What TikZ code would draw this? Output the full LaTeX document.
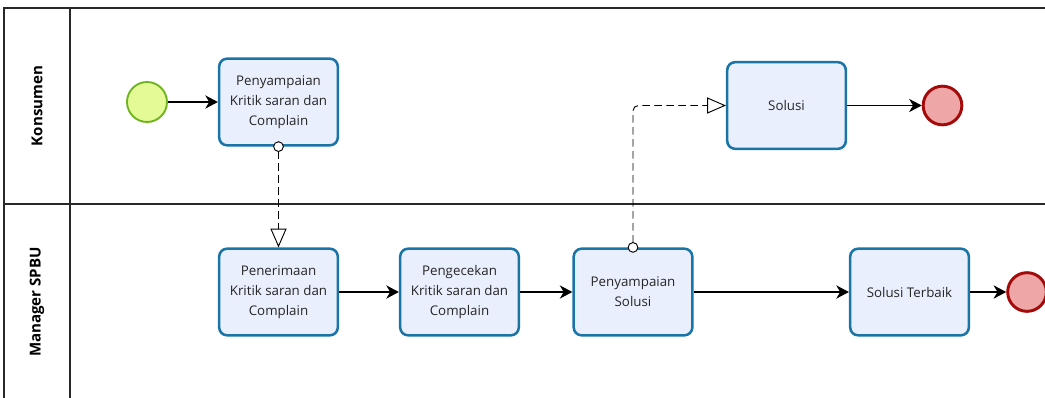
\documentclass[tikz,border=0pt]{standalone}
\usepackage{fontspec}
\setmainfont{Open Sans}
\usetikzlibrary{arrows.meta}

\definecolor{taskfill}{RGB}{234,239,253}
\definecolor{taskline}{RGB}{27,116,166}
\definecolor{startfill}{RGB}{228,250,150}
\definecolor{startline}{RGB}{110,180,30}
\definecolor{endfill}{RGB}{238,166,166}
\definecolor{endline}{RGB}{165,10,10}
\definecolor{poolline}{RGB}{40,40,40}

\begin{document}
\begin{tikzpicture}[x=0.75pt,y=-0.75pt,
  task/.style={draw=taskline, fill=taskfill, line width=1.9pt, rounded corners=6pt,
    minimum width=89pt, minimum height=65pt, align=center, inner sep=1pt,
    font=\fontsize{10}{15}\selectfont, text=black!85},
  startev/.style={circle, draw=startline, fill=startfill, line width=1.4pt, minimum size=30pt, inner sep=0pt},
  endev/.style={circle, draw=endline, fill=endfill, line width=2.2pt, minimum size=29pt, inner sep=0pt},
  seqflow/.style={line width=0.9pt, -{Stealth[length=9.5pt, width=10pt, inset=3pt]}},
  msgflow/.style={line width=0.7pt, dash pattern=on 5.5pt off 3.5pt,
    {Circle[open, length=8pt, fill=white, line width=0.7pt, sep=0pt]}-{Triangle[open, length=14pt, width=12pt, fill=white, line width=0.7pt]}},
  lanelabel/.style={rotate=90, font=\fontsize{11.3}{13}\bfseries\selectfont}
]
\useasboundingbox (0,0) rectangle (1045,397);

% pool and lanes
\draw[poolline, line width=1.1pt] (1060,8) -- (4,8) -- (4,410);
\draw[poolline, line width=1.1pt] (70,8) -- (70,410);
\draw[poolline, line width=1.1pt] (4,204) -- (1060,204);
\node[lanelabel] (lk) at (37,106) {Konsumen};
\node[lanelabel] (lm) at (37,302) {Manager SPBU};

% lane Konsumen
\node[startev] (start) at (147,102) {};
\node[task] (t1) at (278.5,102) {Penyampaian\\Kritik saran dan\\Complain};
\node[task] (sol) at (786.5,105.5) {Solusi};
\node[endev] (end1) at (942.5,105.5) {};

% lane Manager SPBU
\node[task] (t2) at (278.5,292) {Penerimaan\\Kritik saran dan\\Complain};
\node[task] (t3) at (459.5,292) {Pengecekan\\Kritik saran dan\\Complain};
\node[task] (t4) at (633,292) {Penyampaian\\Solusi};
\node[task] (t5) at (909.5,292) {Solusi Terbaik};
\node[endev] (end2) at (1027,292) {};

% sequence flows
\draw[seqflow] (start) -- (t1);
\draw[seqflow] (sol) -- (end1);
\draw[seqflow] (t2) -- (t3);
\draw[seqflow] (t3) -- (t4);
\draw[seqflow] (t4) -- (t5);
\draw[seqflow] (t5) -- (end2);

% message flows
\draw[msgflow] ([yshift=4pt]t1.south) -- (t2.north);
\draw[msgflow, rounded corners=4pt] ([yshift=-4pt]t4.north) |- (sol.west);
\end{tikzpicture}
\end{document}
